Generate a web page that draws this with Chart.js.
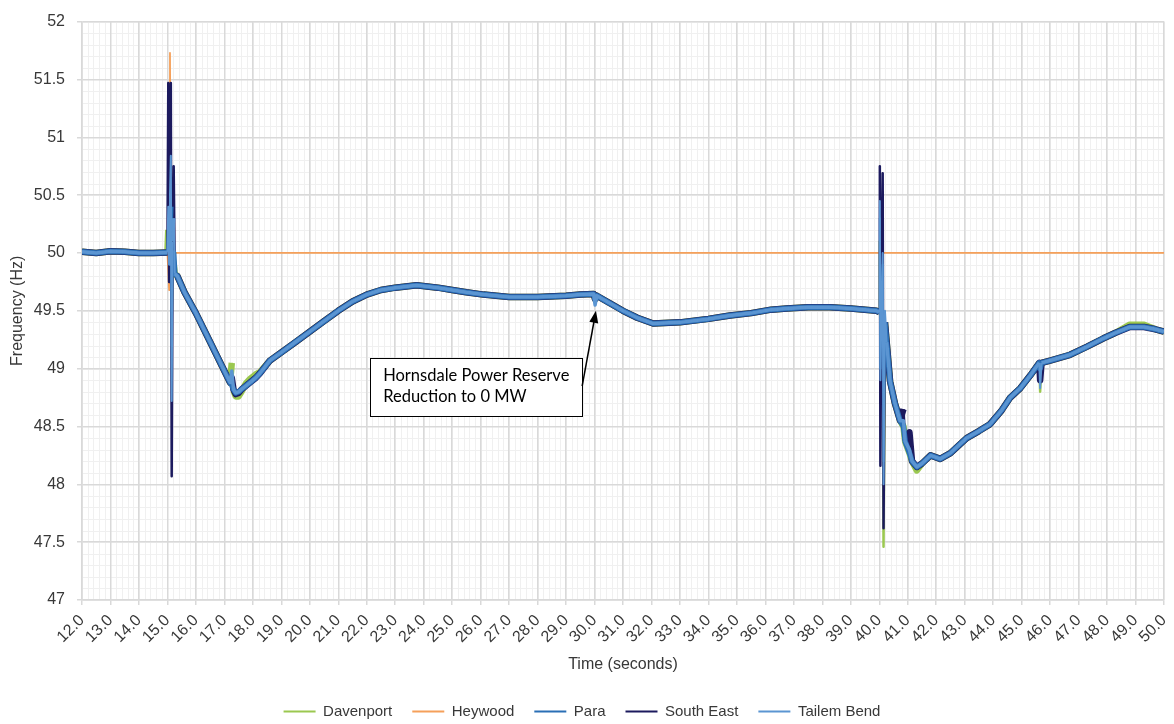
<!DOCTYPE html>
<html>
<head>
<meta charset="utf-8">
<script src="https://cdn.jsdelivr.net/npm/chart.js@4.4.1/dist/chart.umd.min.js"></script>
<style>
  html, body { margin: 0; padding: 0; background: #fff; }
</style>
</head>
<body>
<canvas id="chart" width="1174" height="724"></canvas>
<script>
// time axis (s) shared by the four measured buses
const TIME = [
  12.0, 12.5, 13.0, 13.5, 14.0, 14.5, 15.0,
  15.03, 15.06, 15.09, 15.12, 15.15, 15.18, 15.22, 15.26,
  15.35, 15.6, 16.0, 16.5, 17.0, 17.2, 17.26, 17.32, 17.4, 17.5,
  17.6, 17.75, 17.9, 18.1, 18.25, 18.6, 19.0, 19.5, 20.0, 20.5,
  21.0, 21.5, 22.0, 22.5, 23.0, 23.75, 24.5, 25.0, 25.5, 26.1,
  27.0, 28.0, 29.0, 29.5, 29.97, 30.02, 30.08, 30.65, 31.0, 31.5,
  32.06, 33.0, 34.0, 34.76, 35.5, 36.2, 36.75, 37.5, 38.27, 39.0,
  39.9, 40.0,
  40.02, 40.04, 40.07, 40.12, 40.15, 40.2,
  40.26, 40.38, 40.55, 40.73, 40.85, 40.91, 41.06, 41.15, 41.32, 41.5,
  41.8, 42.14, 42.5, 43.07, 43.5, 43.89, 44.3, 44.6, 44.95, 45.3,
  45.62, 45.65, 45.7, 46.0, 46.7, 47.3, 47.86, 48.3, 48.8, 49.3,
  49.7, 50.0
];

const PARA = [
  50.01, 50.00, 50.015, 50.01, 50.00, 50.00, 50.005,
  50.30, 49.90, 50.20, 50.40, 49.20, 49.95, 50.00, 49.82,
  49.80, 49.66, 49.48, 49.23, 48.98, 48.88, 48.86, 48.82, 48.79, 48.80,
  48.82, 48.85, 48.88, 48.92, 48.96, 49.07, 49.14, 49.23, 49.32, 49.41,
  49.50, 49.58, 49.64, 49.68, 49.70, 49.72, 49.70, 49.68, 49.66, 49.64,
  49.62, 49.62, 49.63, 49.64, 49.645, 49.60, 49.63, 49.55, 49.50, 49.44,
  49.39, 49.40, 49.43, 49.46, 49.48, 49.51, 49.52, 49.53, 49.53, 49.52,
  49.50, 49.49,
  50.30, 49.00, 49.50, 49.90, 48.20, 49.40,
  49.23, 48.89, 48.70, 48.55, 48.50, 48.37, 48.27, 48.20, 48.15, 48.18,
  48.25, 48.22, 48.27, 48.40, 48.46, 48.52, 48.64, 48.75, 48.83, 48.94,
  49.05, 49.00, 49.05, 49.07, 49.12, 49.19, 49.26, 49.31, 49.36, 49.36,
  49.34, 49.32
];

const TAILEM_BEND = [
  50.01, 50.00, 50.015, 50.01, 50.00, 50.00, 50.005,
  50.40, 49.90, 50.50, 50.84, 48.72, 50.10, 50.30, 49.82,
  49.80, 49.66, 49.48, 49.23, 48.98, 48.88, 48.98, 48.82, 48.79, 48.80,
  48.82, 48.85, 48.88, 48.92, 48.96, 49.07, 49.14, 49.23, 49.32, 49.41,
  49.50, 49.58, 49.64, 49.68, 49.70, 49.72, 49.70, 49.68, 49.66, 49.64,
  49.62, 49.62, 49.63, 49.64, 49.645, 49.55, 49.63, 49.55, 49.50, 49.44,
  49.39, 49.40, 49.43, 49.46, 49.48, 49.51, 49.52, 49.53, 49.53, 49.52,
  49.50, 49.49,
  50.45, 48.90, 49.40, 50.00, 48.00, 49.50,
  49.23, 48.89, 48.70, 48.55, 48.55, 48.37, 48.30, 48.20, 48.15, 48.18,
  48.25, 48.22, 48.27, 48.40, 48.46, 48.52, 48.64, 48.75, 48.83, 48.94,
  49.05, 48.83, 49.05, 49.07, 49.12, 49.19, 49.26, 49.31, 49.36, 49.36,
  49.34, 49.32
];

const SOUTH_EAST = [
  50.01, 50.00, 50.015, 50.01, 50.00, 50.00, 50.005,
  51.47, 49.75, 50.80, 51.47, 48.07, 49.90, 50.75, 49.80,
  49.80, 49.66, 49.48, 49.23, 48.98, 48.88, 48.92, 48.82, 48.78, 48.79,
  48.82, 48.85, 48.88, 48.92, 48.96, 49.07, 49.14, 49.23, 49.32, 49.41,
  49.50, 49.58, 49.64, 49.68, 49.70, 49.72, 49.70, 49.68, 49.66, 49.64,
  49.62, 49.62, 49.63, 49.64, 49.645, 49.60, 49.63, 49.55, 49.50, 49.44,
  49.39, 49.40, 49.43, 49.46, 49.48, 49.51, 49.52, 49.53, 49.53, 49.52,
  49.50, 49.49,
  50.75, 48.16, 49.60, 50.69, 47.62, 49.40,
  49.23, 48.89, 48.70, 48.55, 48.65, 48.37, 48.45, 48.20, 48.15, 48.18,
  48.25, 48.22, 48.27, 48.40, 48.46, 48.52, 48.64, 48.75, 48.83, 48.94,
  49.05, 48.90, 49.05, 49.07, 49.12, 49.19, 49.26, 49.31, 49.36, 49.36,
  49.34, 49.32
];

const DAVENPORT = [
  50.01, 50.00, 50.015, 50.01, 50.00, 50.00, 50.005,
  50.20, 49.90, 50.10, 50.30, 49.40, 49.95, 49.90, 49.82,
  49.80, 49.66, 49.48, 49.23, 48.98, 48.88, 49.05, 48.81, 48.76, 48.76,
  48.80, 48.87, 48.91, 48.95, 48.97, 49.07, 49.14, 49.23, 49.32, 49.41,
  49.50, 49.58, 49.64, 49.68, 49.70, 49.72, 49.70, 49.68, 49.66, 49.64,
  49.62, 49.62, 49.63, 49.64, 49.645, 49.60, 49.63, 49.55, 49.50, 49.44,
  49.39, 49.40, 49.43, 49.46, 49.48, 49.51, 49.52, 49.53, 49.53, 49.52,
  49.50, 49.49,
  50.10, 49.10, 49.50, 49.80, 47.46, 49.40,
  49.23, 48.89, 48.70, 48.55, 48.50, 48.37, 48.27, 48.20, 48.12, 48.18,
  48.25, 48.22, 48.27, 48.40, 48.46, 48.52, 48.64, 48.75, 48.83, 48.94,
  49.05, 48.80, 49.05, 49.07, 49.12, 49.19, 49.26, 49.31, 49.38, 49.38,
  49.34, 49.32
];

// Heywood sits on the interconnector side and stays at 50 Hz after separation
const HEYWOOD_TIME = [12.0, 15.0, 15.06, 15.09, 15.12, 50.0];
const HEYWOOD = [50.0, 50.0, 49.68, 51.73, 50.0, 50.0];

const X_TICKS = [12, 13, 14, 15, 16, 17, 18, 19, 20, 21, 22, 23, 24, 25, 26, 27, 28, 29, 30, 31,
  32, 33, 34, 35, 36, 37, 38, 39, 40, 41, 42, 43, 44, 45, 46, 47, 48, 49, 50];
const Y_TICKS = [47, 47.5, 48, 48.5, 49, 49.5, 50, 50.5, 51, 51.5, 52];

const NOTE_TEXT = ['Hornsdale Power Reserve', 'Reduction to 0 MW'];
const NOTE_TIP = [30.05, 49.50];   // where the arrow points (s, Hz)
const NOTE_BOX = [22.12, 49.09];   // top-left corner of the text box (s, Hz)

const COLORS = {
  Davenport: '#9bc850',
  Heywood: '#f5a05a',
  Para: '#2a6fb5',
  'South East': '#1c1a5e',
  'Tailem Bend': '#5b95d2'
};

const FONT = "'Liberation Sans', Arial, sans-serif";
const TEXT = '#383838';

function pts(xs, ys) {
  return xs.map((x, i) => ({ x, y: ys[i] }));
}

// the fast spikes are thin strokes, the noisy band is thick
function spikeWidth(thin) {
  return ctx => {
    const dx = ctx.p1.parsed.x - ctx.p0.parsed.x;
    const dy = Math.abs(ctx.p1.parsed.y - ctx.p0.parsed.y);
    return dx < 0.08 && dy > 0.2 ? thin : undefined;
  };
}

function series(label, xs, ys, width, thin, order) {
  return {
    label,
    data: pts(xs, ys),
    borderColor: COLORS[label],
    backgroundColor: COLORS[label],
    borderWidth: width,
    borderJoinStyle: 'round',
    pointRadius: 0,
    tension: 0,
    order,
    segment: { borderWidth: spikeWidth(thin) }
  };
}

const minorGrid = {
  id: 'minorGrid',
  beforeDraw(chart) {
    const { ctx, chartArea: a, scales: { x, y } } = chart;
    ctx.save();
    ctx.strokeStyle = '#f0f0f0';
    ctx.lineWidth = 1;
    ctx.beginPath();
    for (let i = 0; i <= (X_TICKS.length - 1) * 5; i++) {
      const px = Math.round(x.getPixelForValue(X_TICKS[0] + i * 0.2)) + 0.5;
      ctx.moveTo(px, a.top);
      ctx.lineTo(px, a.bottom);
    }
    for (let i = 0; i <= (Y_TICKS.length - 1) * 5; i++) {
      const py = Math.round(y.getPixelForValue(Y_TICKS[0] + i * 0.1)) + 0.5;
      ctx.moveTo(a.left, py);
      ctx.lineTo(a.right, py);
    }
    ctx.stroke();
    ctx.restore();
  }
};

const note = {
  id: 'note',
  afterDatasetsDraw(chart) {
    const { ctx, scales: { x, y } } = chart;
    const left = x.getPixelForValue(NOTE_BOX[0]);
    const top = y.getPixelForValue(NOTE_BOX[1]);
    const w = 212, h = 58;
    ctx.save();
    ctx.fillStyle = '#fff';
    ctx.strokeStyle = '#000';
    ctx.lineWidth = 1;
    ctx.fillRect(left, top, w, h);
    ctx.strokeRect(Math.round(left) + 0.5, Math.round(top) + 0.5, w, h);
    ctx.fillStyle = '#000';
    ctx.font = "16.5px Lato, 'Open Sans', sans-serif";
    ctx.textBaseline = 'alphabetic';
    NOTE_TEXT.forEach((t, i) => ctx.fillText(t, left + 13, top + 23 + i * 21));

    // arrow from the right edge of the box to the curve
    const x0 = left + w, y0 = top + h / 2 - 1;
    const x1 = x.getPixelForValue(NOTE_TIP[0]), y1 = y.getPixelForValue(NOTE_TIP[1]);
    const ang = Math.atan2(y1 - y0, x1 - x0);
    const head = 12;
    ctx.lineWidth = 1.5;
    ctx.beginPath();
    ctx.moveTo(x0, y0);
    ctx.lineTo(x1 - Math.cos(ang) * head * 0.8, y1 - Math.sin(ang) * head * 0.8);
    ctx.stroke();
    ctx.beginPath();
    ctx.moveTo(x1, y1);
    ctx.lineTo(x1 - head * Math.cos(ang) + 4.5 * Math.sin(ang), y1 - head * Math.sin(ang) - 4.5 * Math.cos(ang));
    ctx.lineTo(x1 - head * Math.cos(ang) - 4.5 * Math.sin(ang), y1 - head * Math.sin(ang) + 4.5 * Math.cos(ang));
    ctx.closePath();
    ctx.fill();
    ctx.restore();
  }
};

new Chart(document.getElementById('chart'), {
  type: 'line',
  data: {
    datasets: [
      series('Davenport', TIME, DAVENPORT, 6.5, 2.5, 5),
      series('Heywood', HEYWOOD_TIME, HEYWOOD, 1.8, 1.8, 4),
      series('Para', TIME, PARA, 5.5, 2, 2),
      series('South East', TIME, SOUTH_EAST, 6.5, 2.5, 3),
      series('Tailem Bend', TIME, TAILEM_BEND, 3.5, 2, 1)
    ]
  },
  options: {
    responsive: false,
    animation: false,
    layout: { padding: { top: 13, right: 10, bottom: -5, left: 0 } },
    scales: {
      x: {
        type: 'linear',
        min: 12, max: 50,
        afterBuildTicks: s => { s.ticks = X_TICKS.map(v => ({ value: v })); },
        afterFit: s => { s.height = 84; s.paddingRight = 0; },
        ticks: {
          autoSkip: false, minRotation: 45, maxRotation: 45, padding: 6,
          color: TEXT, font: { family: FONT, size: 16 },
          callback: v => Number(v).toFixed(1)
        },
        grid: { color: '#d9d9d9', lineWidth: 1.5, tickLength: 5 },
        border: { color: '#d9d9d9', width: 1.5 },
        title: { display: true, text: 'Time (seconds)', color: TEXT, font: { family: FONT, size: 16 }, padding: { top: 4, bottom: 10 } }
      },
      y: {
        min: 47, max: 52,
        afterBuildTicks: s => { s.ticks = Y_TICKS.map(v => ({ value: v })); },
        afterFit: s => { s.width = 82; },
        ticks: { color: TEXT, padding: 12, font: { family: FONT, size: 16 }, callback: v => String(v) },
        grid: { color: '#d9d9d9', lineWidth: 1.5, tickLength: 5 },
        border: { color: '#d9d9d9', width: 1.5 },
        title: { display: true, text: 'Frequency (Hz)', color: TEXT, font: { family: FONT, size: 16 }, padding: { top: 8, bottom: 4 } }
      }
    },
    plugins: {
      tooltip: { enabled: false },
      legend: {
        position: 'bottom',
        labels: {
          usePointStyle: true,
          pointStyle: 'line',
          pointStyleWidth: 32,
          padding: 20,
          color: TEXT,
          font: { family: FONT, size: 15 },
          sort: (a, b) => a.datasetIndex - b.datasetIndex,
          generateLabels: chart => Chart.defaults.plugins.legend.labels.generateLabels(chart).map(l => ({
            ...l,
            lineWidth: 2,
            strokeStyle: chart.data.datasets[l.datasetIndex].borderColor
          }))
        }
      }
    }
  },
  plugins: [minorGrid, note]
});
</script>
</body>
</html>
